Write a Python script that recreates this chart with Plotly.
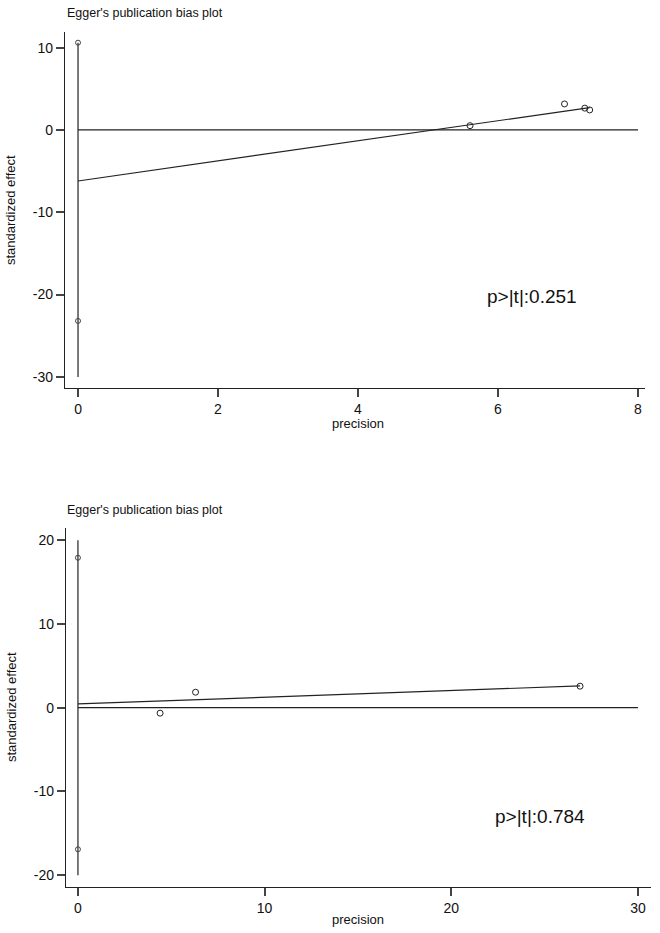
import plotly.graph_objects as go

W, H = 660, 933

# ---------------- data ----------------
title_text = "Egger's publication bias plot"

top_precision = [5.6, 6.95, 7.24, 7.31]
top_effect = [0.52, 3.16, 2.65, 2.43]
top_ci = [10.6, -23.2]          # markers at precision 0
top_vline = [-30, 10.6]         # vertical line at precision 0
top_fit_x = [0, 7.31]
top_fit_y = [-6.2, 2.72]
top_zero_x = [0, 8]
top_xticks = [0, 2, 4, 6, 8]
top_yticks = [-30, -20, -10, 0, 10]
top_p = "p>|t|:0.251"

bot_precision = [4.4, 6.3, 26.9]
bot_effect = [-0.65, 1.85, 2.57]
bot_ci = [17.9, -16.9]
bot_vline = [-20, 20]
bot_fit_x = [0, 26.9]
bot_fit_y = [0.45, 2.6]
bot_zero_x = [0, 30]
bot_xticks = [0, 10, 20, 30]
bot_yticks = [-20, -10, 0, 10, 20]
bot_p = "p>|t|:0.784"

# ---------------- figure ----------------
FONT = "Liberation Sans, Arial, sans-serif"
LINE = "#222222"
fig = go.Figure()


def add_panel(n, prec, eff, ci, vline, fx, fy, zx):
    xa = "x" if n == 1 else f"x{n}"
    ya = "y" if n == 1 else f"y{n}"
    fig.add_trace(go.Scatter(x=[0, 0], y=vline, mode="lines",
                             line=dict(color=LINE, width=1.2),
                             xaxis=xa, yaxis=ya, showlegend=False))
    fig.add_trace(go.Scatter(x=zx, y=[0, 0], mode="lines",
                             line=dict(color=LINE, width=1.2),
                             xaxis=xa, yaxis=ya, showlegend=False))
    fig.add_trace(go.Scatter(x=fx, y=fy, mode="lines",
                             line=dict(color=LINE, width=1.2),
                             xaxis=xa, yaxis=ya, showlegend=False))
    fig.add_trace(go.Scatter(x=[0] * len(ci), y=ci, mode="markers",
                             marker=dict(symbol="circle-open", size=5,
                                         color="#444444", line=dict(width=1)),
                             xaxis=xa, yaxis=ya, showlegend=False))
    fig.add_trace(go.Scatter(x=prec, y=eff, mode="markers",
                             marker=dict(symbol="circle-open", size=6,
                                         color="#222222", line=dict(width=1)),
                             xaxis=xa, yaxis=ya, showlegend=False))


add_panel(1, top_precision, top_effect, top_ci, top_vline,
          top_fit_x, top_fit_y, top_zero_x)
add_panel(2, bot_precision, bot_effect, bot_ci, bot_vline,
          bot_fit_x, bot_fit_y, bot_zero_x)


def px_x(p):
    return p / W


def px_y(p):
    return 1 - p / H


def labels(vals):
    return [str(v) for v in vals]   # plain hyphen minus, as in the reference


axis_common = dict(showline=True, linecolor=LINE, linewidth=1.2,
                   ticks="outside", ticklen=8, tickcolor="#444444",
                   tickwidth=1.5, showgrid=False, zeroline=False,
                   tickfont=dict(family=FONT, size=14, color="#111111"),
                   mirror=False)

fig.update_layout(
    width=W, height=H,
    margin=dict(l=0, r=0, t=0, b=0),
    paper_bgcolor="white", plot_bgcolor="white",
    font=dict(family=FONT, color="#111111"),
    xaxis=dict(domain=[px_x(65), px_x(645)], range=[-0.186, 8.1],
               tickvals=top_xticks, ticktext=labels(top_xticks),
               anchor="y", **axis_common),
    yaxis=dict(domain=[px_y(388), px_y(32)], range=[-31.35, 11.9],
               tickvals=top_yticks, ticktext=labels(top_yticks),
               anchor="x", **axis_common),
    xaxis2=dict(domain=[px_x(66), px_x(651)], range=[-0.64, 30.7],
                tickvals=bot_xticks, ticktext=labels(bot_xticks),
                anchor="y2", **axis_common),
    yaxis2=dict(domain=[px_y(887), px_y(528)], range=[-21.4, 21.45],
                tickvals=bot_yticks, ticktext=labels(bot_yticks),
                anchor="x2", **axis_common),
)

annots = [
    dict(text=title_text, x=px_x(65), y=px_y(13), xanchor="left", yanchor="middle",
         font=dict(size=12.5)),
    dict(text=title_text, x=px_x(65), y=px_y(510), xanchor="left", yanchor="middle",
         font=dict(size=12.5)),
    dict(text="standardized effect", x=px_x(11), y=px_y(210), textangle=-90,
         xanchor="center", yanchor="middle", font=dict(size=13)),
    dict(text="standardized effect", x=px_x(11), y=px_y(707), textangle=-90,
         xanchor="center", yanchor="middle", font=dict(size=13)),
    dict(text="precision", x=px_x(358), y=px_y(423), xanchor="center", yanchor="middle",
         font=dict(size=13)),
    dict(text="precision", x=px_x(358), y=px_y(919), xanchor="center", yanchor="middle",
         font=dict(size=13)),
    dict(text=top_p, x=px_x(532), y=px_y(296), xanchor="center", yanchor="middle",
         font=dict(size=19)),
    dict(text=bot_p, x=px_x(540), y=px_y(816), xanchor="center", yanchor="middle",
         font=dict(size=19)),
]
for a in annots:
    a.update(xref="paper", yref="paper", showarrow=False)
    a["font"].update(family=FONT, color="#111111")
    fig.add_annotation(**a)

# remove the browser's default 8px body margin so the figure sits at (0, 0)
fig.write_html("out.html", config={"displayModeBar": False},
               post_script="document.body.style.margin='0';")
